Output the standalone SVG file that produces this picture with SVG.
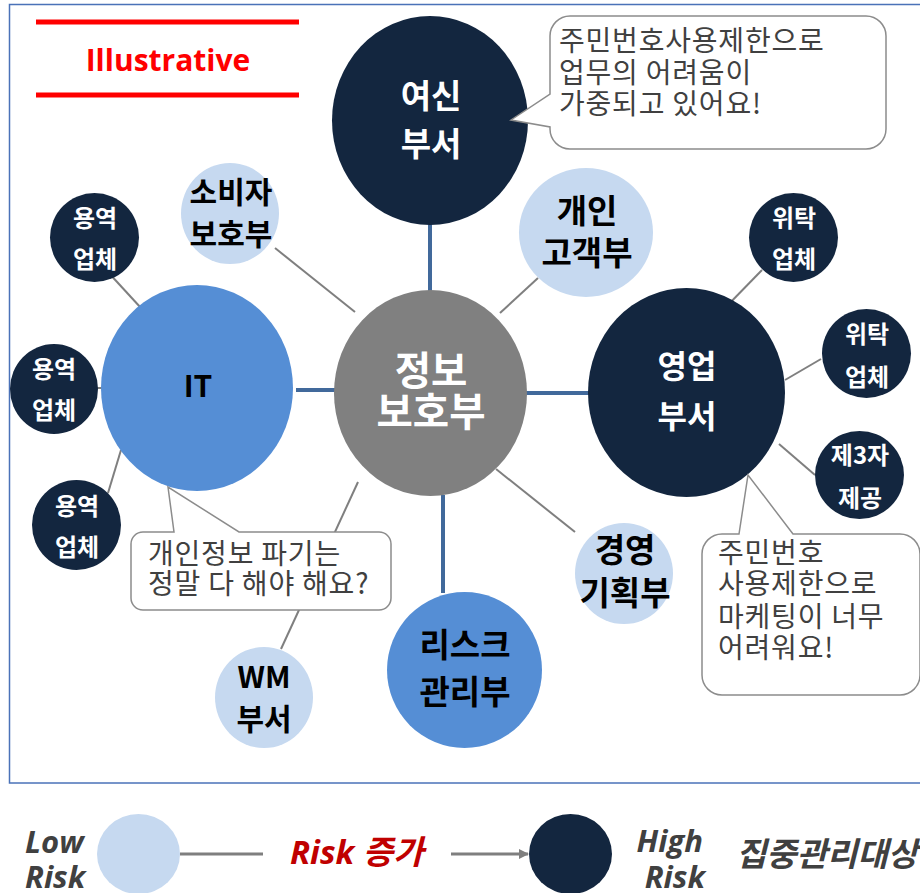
<svg xmlns="http://www.w3.org/2000/svg" width="920" height="893" viewBox="0 0 920 893">
<style>
.kr{font-family:"Noto Sans CJK KR","Noto Sans",sans-serif;text-anchor:middle;font-weight:bold}
.w{fill:#ffffff}
.b{fill:#000000}
.navy{fill:#13263F}
.light{fill:#C6D9F0}
.mid{fill:#558ED5}
.gray{fill:#808080}
.thick{stroke:#41699B;stroke-width:4;fill:none}
.thin{stroke:#7F7F7F;stroke-width:2;fill:none}
.callout{fill:#ffffff;stroke:#8C8C8C;stroke-width:1.5}
.ct{font-family:"Noto Sans CJK KR","Noto Sans",sans-serif;font-size:28px;letter-spacing:0.8px;fill:#404040}
.lg{font-family:"Open Sans","Noto Sans CJK KR",sans-serif;font-weight:bold;font-style:italic;font-size:31px;fill:#404040}
</style>
<defs>
<marker id="arr" markerWidth="10" markerHeight="10" refX="9" refY="5" orient="auto" markerUnits="userSpaceOnUse"><path d="M0,0 L10,5 L0,10 Z" fill="#7F7F7F"/></marker>
</defs>
<rect x="0" y="0" width="920" height="893" fill="#ffffff"/>
<rect x="9.5" y="4.5" width="920" height="778.5" fill="none" stroke="#4A72B8" stroke-width="1.5"/>

<g id="illustrative">
<line x1="36" y1="22" x2="299" y2="22" stroke="#FF0000" stroke-width="5"/>
<line x1="36" y1="95" x2="299" y2="95" stroke="#FF0000" stroke-width="5"/>
<text x="168" y="71" font-family="'Open Sans','Noto Sans',sans-serif" font-weight="bold" font-size="30" fill="#FF0000" text-anchor="middle">Illustrative</text>
</g>

<g id="connectors">
<line class="thick" x1="430" y1="224" x2="430" y2="291"/>
<line class="thick" x1="296" y1="390" x2="335" y2="390"/>
<line class="thick" x1="526" y1="393" x2="590" y2="393"/>
<line class="thick" x1="443" y1="495" x2="443" y2="593"/>
<line class="thin" x1="275" y1="248" x2="355" y2="312"/>
<line class="thin" x1="538" y1="278" x2="500" y2="313"/>
<line class="thin" x1="496" y1="469" x2="575" y2="532"/>
<line class="thin" x1="358" y1="482" x2="281" y2="649"/>
<line class="thin" x1="107" y1="271" x2="141" y2="308"/>
<line class="thin" x1="97" y1="388" x2="104" y2="388"/>
<line class="thin" x1="108" y1="493" x2="121" y2="450"/>
<line class="thin" x1="762" y1="270" x2="724" y2="309"/>
<line class="thin" x1="785" y1="380" x2="821" y2="359"/>
<line class="thin" x1="779" y1="444" x2="815" y2="475"/>
</g>

<g id="yeosin">
<ellipse class="navy" cx="430" cy="120.5" rx="98" ry="104.5"/>
<text class="kr w" x="431" y="107.5" font-size="33">여신</text>
<text class="kr w" x="431" y="155.5" font-size="33">부서</text>
</g>

<g id="sobija">
<ellipse class="light" cx="230" cy="213.5" rx="49" ry="50.5"/>
<text class="kr b" x="231" y="203" font-size="30">소비자</text>
<text class="kr b" x="231" y="245" font-size="30">보호부</text>
</g>

<g id="gaein">
<ellipse class="light" cx="586" cy="232.5" rx="67" ry="64.5"/>
<text class="kr b" x="587" y="222.5" font-size="33">개인</text>
<text class="kr b" x="587" y="264.5" font-size="33">고객부</text>
</g>

<g id="yongyeok1">
<ellipse class="navy" cx="94.5" cy="237.5" rx="44.5" ry="44.5"/>
<text class="kr w" x="95" y="226.5" font-size="24">용역</text>
<text class="kr w" x="95" y="267.5" font-size="24">업체</text>
</g>

<g id="yongyeok2">
<ellipse class="navy" cx="54" cy="389" rx="44" ry="45"/>
<text class="kr w" x="54" y="378" font-size="24">용역</text>
<text class="kr w" x="54" y="419" font-size="24">업체</text>
</g>

<g id="yongyeok3">
<ellipse class="navy" cx="76.5" cy="525" rx="44.5" ry="45"/>
<text class="kr w" x="77" y="514.5" font-size="24">용역</text>
<text class="kr w" x="77" y="556" font-size="24">업체</text>
</g>

<g id="it">
<ellipse class="mid" cx="197" cy="388" rx="96" ry="103"/>
<text class="kr b" x="198" y="397" font-size="30">IT</text>
</g>

<g id="jeongbo">
<ellipse class="gray" cx="430.5" cy="393" rx="96.5" ry="103"/>
<text class="kr w" x="431" y="384.5" font-size="39.5">정보</text>
<text class="kr w" x="431" y="425.5" font-size="39.5">보호부</text>
</g>

<g id="yeongeop">
<ellipse class="navy" cx="686.5" cy="392.5" rx="98.5" ry="104.5"/>
<text class="kr w" x="687" y="378" font-size="32">영업</text>
<text class="kr w" x="687" y="428" font-size="32">부서</text>
</g>

<g id="witak1">
<ellipse class="navy" cx="793.5" cy="237.5" rx="44.5" ry="44.5"/>
<text class="kr w" x="794" y="226.5" font-size="24">위탁</text>
<text class="kr w" x="794" y="267.5" font-size="24">업체</text>
</g>

<g id="witak2">
<ellipse class="navy" cx="866.5" cy="353.5" rx="44.5" ry="44.5"/>
<text class="kr w" x="867" y="342.5" font-size="24">위탁</text>
<text class="kr w" x="867" y="385.5" font-size="24">업체</text>
</g>

<g id="je3ja">
<ellipse class="navy" cx="859.5" cy="475" rx="44.5" ry="44"/>
<text class="kr w" x="860" y="463.5" font-size="24">제3자</text>
<text class="kr w" x="860" y="506.5" font-size="24">제공</text>
</g>

<g id="gyeongyeong">
<ellipse class="light" cx="624" cy="573.5" rx="49" ry="50.5"/>
<text class="kr b" x="625" y="561.5" font-size="33">경영</text>
<text class="kr b" x="625" y="604.5" font-size="33">기획부</text>
</g>

<g id="risk">
<ellipse class="mid" cx="464.5" cy="670" rx="77.5" ry="78"/>
<text class="kr b" x="465" y="656.5" font-size="33">리스크</text>
<text class="kr b" x="465" y="703.5" font-size="33">관리부</text>
</g>

<g id="wm">
<ellipse class="light" cx="264" cy="697.5" rx="49" ry="50.5"/>
<text class="kr b" x="264" y="687.5" font-size="30">WM</text>
<text class="kr b" x="264" y="730" font-size="30">부서</text>
</g>

<g id="callout1">
<path class="callout" d="M570,16 H866 A20,20 0 0 1 886,36 V129 A20,20 0 0 1 866,149 H570 A20,20 0 0 1 550,129 V127 L511,120 L550,94 V36 A20,20 0 0 1 570,16 Z"/>
<text class="ct" x="559" y="51.3">주민번호사용제한으로</text>
<text class="ct" x="559" y="82.7">업무의 어려움이</text>
<text class="ct" x="559" y="114.4">가중되고 있어요!</text>
</g>

<g id="callout2">
<path class="callout" d="M143,532 H174 L168,487 L239,532 H379 A12,12 0 0 1 391,544 V598 A12,12 0 0 1 379,610 H143 A12,12 0 0 1 131,598 V544 A12,12 0 0 1 143,532 Z"/>
<text class="ct" x="148" y="564.3">개인정보 파기는</text>
<text class="ct" x="148" y="594.3">정말 다 해야 해요?</text>
</g>

<g id="callout3">
<path class="callout" d="M722,534 H739 L748,475 L793,534 H900 A20,20 0 0 1 920,554 V675 A20,20 0 0 1 900,695 H722 A20,20 0 0 1 702,675 V554 A20,20 0 0 1 722,534 Z"/>
<text class="ct" x="718" y="562.7">주민번호</text>
<text class="ct" x="718" y="594.3">사용제한으로</text>
<text class="ct" x="718" y="626.7">마케팅이 너무</text>
<text class="ct" x="718" y="658.3">어려워요!</text>
</g>

<g id="legend">
<text class="lg" x="25" y="852.7">Low</text>
<text class="lg" x="25" y="888">Risk</text>
<ellipse class="light" cx="138.5" cy="854" rx="41.5" ry="40"/>
<line x1="180" y1="854" x2="263" y2="854" stroke="#7F7F7F" stroke-width="3"/>
<text class="lg" x="290" y="864" style="fill:#C00000;font-size:33px">Risk 증가</text>
<line x1="451" y1="854" x2="528" y2="854" stroke="#7F7F7F" stroke-width="3" marker-end="url(#arr)"/>
<ellipse class="navy" cx="570.5" cy="854" rx="41.5" ry="40"/>
<text class="lg" x="703" y="851.7" text-anchor="end">High</text>
<text class="lg" x="705" y="888" text-anchor="end">Risk</text>
<text class="lg" x="736" y="866" style="font-size:33px">집중관리대상</text>
</g>
</svg>
